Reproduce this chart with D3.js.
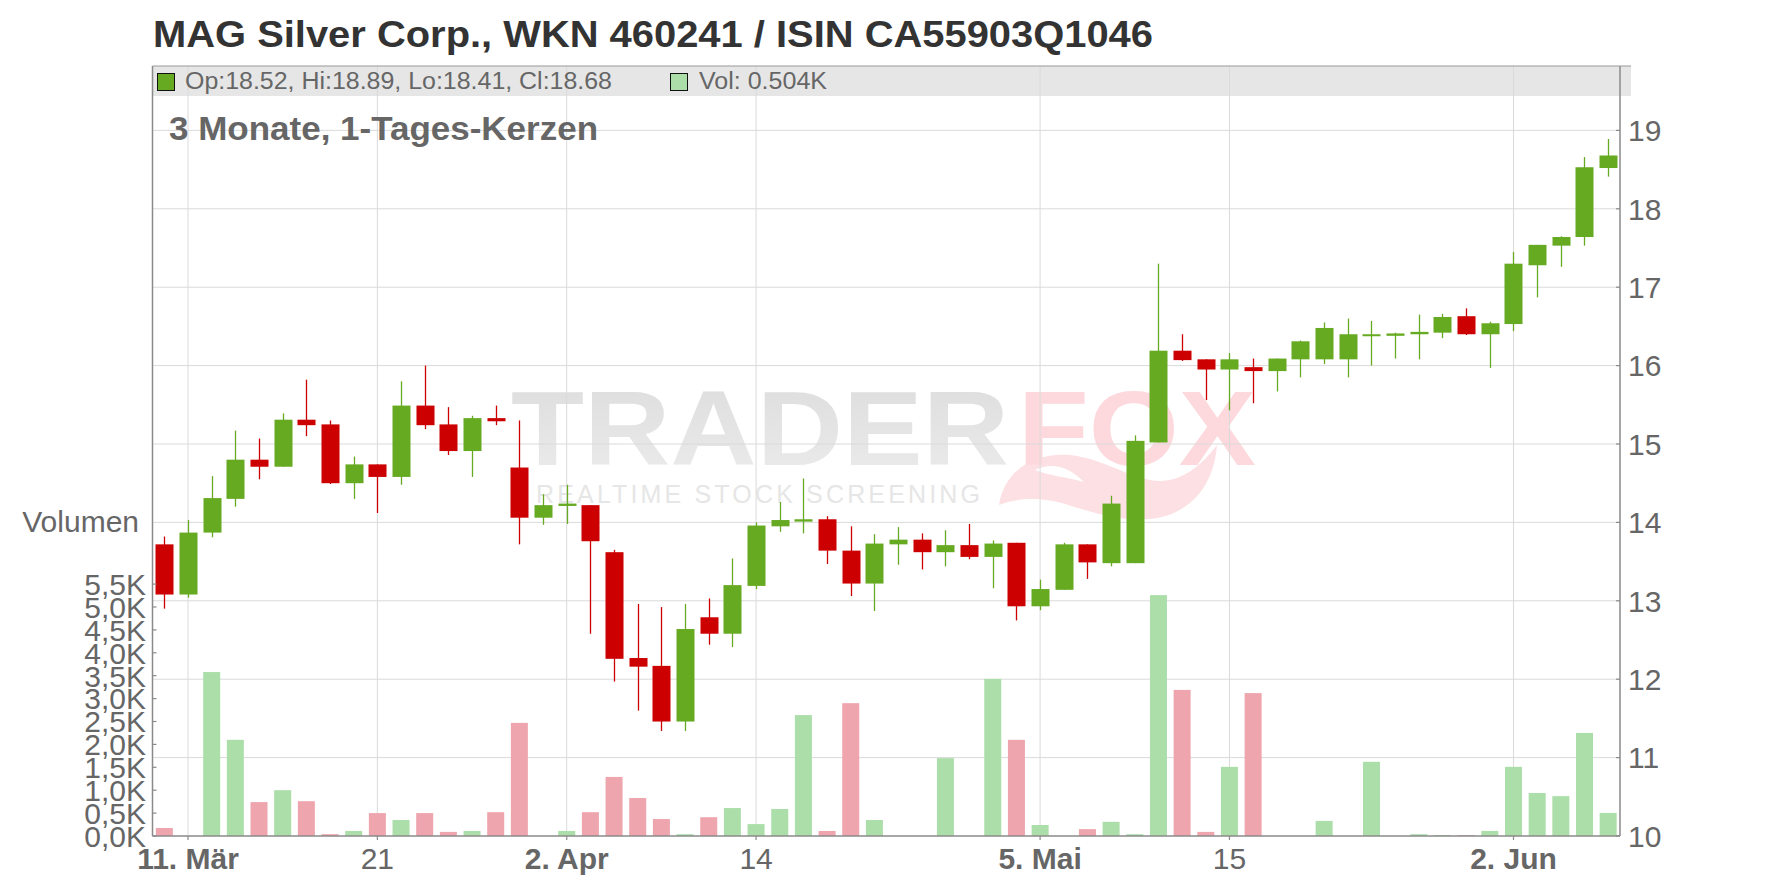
<!DOCTYPE html>
<html>
<head>
<meta charset="utf-8">
<script src="https://cdn.jsdelivr.net/npm/d3@7"></script>
<style>
  html, body { margin: 0; padding: 0; background: #fff; }
  svg { display: block; font-family: "Liberation Sans", Arial, sans-serif; }
</style>
</head>
<body>
<svg id="chart" width="1776" height="888"></svg>
<script>
// ---------- data ----------
const opens  = [13.72,13.08,13.87,14.30,14.80,14.71,15.31,15.25,14.50,14.74,14.58,15.49,15.25,14.91,15.33,14.70,14.06,14.21,14.22,13.62,12.27,12.17,11.46,12.79,12.58,13.19,13.95,14.01,14.04,13.64,13.22,13.72,13.78,13.62,13.71,13.56,13.74,12.93,13.14,13.72,13.48,13.48,15.02,16.19,16.08,15.95,15.98,15.93,16.08,16.08,16.08,16.38,16.38,16.40,16.42,16.63,16.40,16.53,17.28,17.53,17.64,18.52];
const highs  = [13.82,14.03,14.59,15.17,15.07,15.39,15.82,15.30,14.84,14.74,15.80,16.00,15.47,15.36,15.49,15.30,14.36,14.48,14.22,13.65,12.96,12.92,12.96,13.03,13.54,14.00,14.26,14.56,14.08,13.95,13.85,13.94,13.86,13.90,13.98,13.77,13.74,13.27,13.74,13.72,14.34,15.11,17.30,16.40,16.08,16.16,16.09,16.09,16.32,16.55,16.60,16.57,16.42,16.65,16.66,16.73,16.56,17.45,17.54,17.65,18.66,18.89];
const lows   = [12.90,13.04,13.81,14.20,14.55,14.71,15.10,14.49,14.30,14.12,14.48,15.19,14.86,14.58,15.24,13.72,13.97,13.98,12.58,11.97,11.60,11.34,11.34,12.44,12.41,13.15,13.88,13.86,13.47,13.06,12.87,13.46,13.40,13.44,13.53,13.16,12.75,12.88,13.14,13.28,13.44,13.48,15.02,16.06,15.56,15.43,15.52,15.67,15.85,16.02,15.85,16.00,16.09,16.08,16.35,16.39,15.97,16.44,16.87,17.26,17.53,18.41];
const closes = [13.08,13.87,14.31,14.80,14.71,15.31,15.24,14.50,14.74,14.58,15.49,15.24,14.91,15.33,15.29,14.06,14.22,14.24,13.76,12.26,12.16,11.46,12.64,12.58,13.20,13.96,14.03,14.04,13.64,13.22,13.73,13.78,13.62,13.71,13.56,13.73,12.93,13.15,13.72,13.49,14.24,15.04,16.19,16.07,15.95,16.08,15.93,16.09,16.31,16.48,16.40,16.40,16.41,16.43,16.62,16.40,16.54,17.30,17.54,17.64,18.53,18.68];
const volumes = [0.175,0,3.58,2.10,0.74,1.00,0.76,0.04,0.11,0.50,0.35,0.50,0.09,0.11,0.52,2.47,0,0.11,0.52,1.29,0.83,0.37,0.04,0.41,0.61,0.26,0.59,2.64,0.11,2.90,0.35,0,0,1.70,0,3.43,2.10,0.24,0,0.15,0.31,0.04,5.26,3.19,0.09,1.51,3.12,0,0,0.33,0,1.62,0,0.04,0.02,0.02,0.11,1.51,0.94,0.87,2.25,0.504];

const dateTickIdx    = [1, 9, 17, 25, 37, 45, 57];
const dateTickLabels = ["11. Mär", "21", "2. Apr", "14", "5. Mai", "15", "2. Jun"];
const dateTickBold   = [true, false, true, false, true, false, true];
const priceTicks = [10, 11, 12, 13, 14, 15, 16, 17, 18, 19];
const volTicks = [0, 0.5, 1, 1.5, 2, 2.5, 3, 3.5, 4, 4.5, 5, 5.5];
const volTickLabels = ["0,0K","0,5K","1,0K","1,5K","2,0K","2,5K","3,0K","3,5K","4,0K","4,5K","5,0K","5,5K"];

const titleText = "MAG Silver Corp., WKN 460241 / ISIN CA55903Q1046";
const subtitleText = "3 Monate, 1-Tages-Kerzen";
const legendOHLC = "Op:18.52, Hi:18.89, Lo:18.41, Cl:18.68";
const legendVol = "Vol: 0.504K";

// ---------- layout ----------
const L = 152.5, R = 1620, T = 66, B = 836;
const UP = "#66aa22", DOWN = "#cc0000", UPV = "#acdeaa", DOWNV = "#eea5ad";
const GRID = "#dadada", AXIS = "#8a8a8a", TXT = "#666666";

const svg = d3.select("#chart");
const n = opens.length;
const x = d3.scaleBand().domain(d3.range(n)).range([L, R]).paddingInner(0);
const cx = i => x(i) + x.bandwidth() / 2;
const y = d3.scaleLinear().domain([10, 19]).range([B, 130.4]);
const yv = d3.scaleLinear().domain([0, 5.5]).range([B, 584.1]);

// title
svg.append("text").attr("x", 153).attr("y", 47)
  .attr("font-size", 36).attr("font-weight", "bold").attr("fill", "#333")
  .attr("textLength", 1000).attr("lengthAdjust", "spacingAndGlyphs")
  .text(titleText);

// legend bar
svg.append("rect").attr("x", L).attr("y", T).attr("width", 1631 - L).attr("height", 30)
  .attr("fill", "#e6e6e6");

// watermark
const wm = svg.append("g");
const defs = svg.append("defs");
const grad = defs.append("linearGradient").attr("id", "wmg").attr("x1", 0).attr("y1", 0).attr("x2", 0).attr("y2", 1);
grad.append("stop").attr("offset", "0%").attr("stop-color", "#dcdcdc");
grad.append("stop").attr("offset", "100%").attr("stop-color", "#ececec");
wm.append("path")
  .attr("d", "M999,505 C1004,470 1035,452 1070,455 C1100,458 1122,474 1150,480 C1176,485 1198,470 1217,445 C1214,482 1196,506 1166,516 C1130,526 1092,512 1062,503 C1036,496 1014,499 999,505 Z")
  .attr("fill", "#fde0e3");
wm.append("path")
  .attr("d", "M1035,470 C1052,462 1068,466 1084,482 C1066,477 1050,476 1035,470 Z")
  .attr("fill", "#ffffff");
wm.append("text").attr("x", 511).attr("y", 465)
  .attr("font-size", 106).attr("font-weight", "bold").attr("fill", "url(#wmg)")
  .attr("textLength", 498).attr("lengthAdjust", "spacingAndGlyphs").text("TRADER");
wm.append("text").attr("x", 1018).attr("y", 465)
  .attr("font-size", 106).attr("font-weight", "bold").attr("fill", "#fdd8dc")
  .attr("textLength", 238).attr("lengthAdjust", "spacingAndGlyphs").text("FOX");
wm.append("text").attr("x", 536).attr("y", 503)
  .attr("font-size", 25).attr("fill", "#e6e6e6")
  .attr("textLength", 444).attr("lengthAdjust", "spacing").text("REALTIME STOCK SCREENING");

// gridlines
svg.append("g").selectAll("line").data(priceTicks.filter(d => d > 10)).join("line")
  .attr("x1", L).attr("x2", R).attr("y1", d => y(d)).attr("y2", d => y(d))
  .attr("stroke", GRID).attr("stroke-width", 1);
svg.append("g").selectAll("line").data(dateTickIdx).join("line")
  .attr("x1", d => cx(d)).attr("x2", d => cx(d)).attr("y1", T).attr("y2", B)
  .attr("stroke", GRID).attr("stroke-width", 1);

// legend content
svg.append("rect").attr("x", 157.5).attr("y", 73.5).attr("width", 17).attr("height", 17)
  .attr("fill", UP).attr("stroke", "#111").attr("stroke-width", 1);
svg.append("text").attr("x", 185).attr("y", 89).attr("font-size", 23).attr("fill", TXT)
  .attr("textLength", 427).attr("lengthAdjust", "spacingAndGlyphs").text(legendOHLC);
svg.append("rect").attr("x", 670.5).attr("y", 73.5).attr("width", 17).attr("height", 17)
  .attr("fill", UPV).attr("stroke", "#111").attr("stroke-width", 1);
svg.append("text").attr("x", 699).attr("y", 89).attr("font-size", 23).attr("fill", TXT)
  .attr("textLength", 128).attr("lengthAdjust", "spacingAndGlyphs").text(legendVol);

// subtitle
svg.append("text").attr("x", 169).attr("y", 140)
  .attr("font-size", 33).attr("font-weight", "bold").attr("fill", TXT)
  .attr("textLength", 429).attr("lengthAdjust", "spacingAndGlyphs").text(subtitleText);

// volume bars
const idx = d3.range(n);
svg.append("g").selectAll("rect").data(idx.filter(i => volumes[i] > 0)).join("rect")
  .attr("x", i => cx(i) - 8.5).attr("width", 17)
  .attr("y", i => yv(volumes[i])).attr("height", i => B - yv(volumes[i]))
  .attr("fill", i => closes[i] >= opens[i] ? UPV : DOWNV);

// candles
const cg = svg.append("g");
cg.selectAll("line").data(idx).join("line")
  .attr("x1", i => Math.round(cx(i)) + 0.5).attr("x2", i => Math.round(cx(i)) + 0.5)
  .attr("y1", i => y(highs[i])).attr("y2", i => y(lows[i]))
  .attr("stroke", i => closes[i] >= opens[i] ? UP : DOWN).attr("stroke-width", 1.3);
cg.selectAll("rect").data(idx).join("rect")
  .attr("x", i => Math.round(cx(i)) + 0.5 - 9).attr("width", 18)
  .attr("y", i => Math.min(y(opens[i]), y(closes[i])))
  .attr("height", i => Math.max(2, Math.abs(y(opens[i]) - y(closes[i]))))
  .attr("fill", i => closes[i] >= opens[i] ? UP : DOWN);

// axes lines
svg.append("line").attr("x1", L).attr("x2", L).attr("y1", T).attr("y2", B).attr("stroke", AXIS).attr("stroke-width", 1.5);
svg.append("line").attr("x1", R).attr("x2", R).attr("y1", T).attr("y2", B).attr("stroke", AXIS).attr("stroke-width", 1.5);
svg.append("line").attr("x1", L).attr("x2", R).attr("y1", B).attr("y2", B).attr("stroke", AXIS).attr("stroke-width", 1.5);
svg.append("line").attr("x1", L).attr("x2", 1631).attr("y1", T).attr("y2", T).attr("stroke", "#999").attr("stroke-width", 1.2);

// right price axis
const ra = svg.append("g");
ra.selectAll("line").data(priceTicks).join("line")
  .attr("x1", R - 4).attr("x2", R).attr("y1", d => y(d)).attr("y2", d => y(d))
  .attr("stroke", AXIS).attr("stroke-width", 1.2);
ra.selectAll("text").data(priceTicks).join("text")
  .attr("x", 1628).attr("y", d => y(d)).attr("dy", "0.36em")
  .attr("font-size", 30).attr("fill", TXT).text(d => d);

// left volume axis
const la = svg.append("g");
la.selectAll("line").data(volTicks).join("line")
  .attr("x1", L).attr("x2", L + 4).attr("y1", d => yv(d)).attr("y2", d => yv(d))
  .attr("stroke", AXIS).attr("stroke-width", 1.2);
la.selectAll("text").data(volTicks).join("text")
  .attr("x", 146).attr("y", d => yv(d)).attr("dy", "0.36em").attr("text-anchor", "end")
  .attr("font-size", 30).attr("fill", TXT).text((d, i) => volTickLabels[i]);
svg.append("text").attr("x", 139).attr("y", 532).attr("text-anchor", "end")
  .attr("font-size", 30).attr("fill", TXT).text("Volumen");

// bottom date axis
const ba = svg.append("g");
ba.selectAll("line").data(dateTickIdx).join("line")
  .attr("x1", d => cx(d)).attr("x2", d => cx(d)).attr("y1", B).attr("y2", B + 4)
  .attr("stroke", AXIS).attr("stroke-width", 1.2);
ba.selectAll("text").data(dateTickIdx).join("text")
  .attr("x", d => cx(d)).attr("y", 869).attr("text-anchor", "middle")
  .attr("font-size", 30).attr("fill", TXT)
  .attr("font-weight", (d, i) => dateTickBold[i] ? "bold" : "normal")
  .text((d, i) => dateTickLabels[i]);
</script>
</body>
</html>
